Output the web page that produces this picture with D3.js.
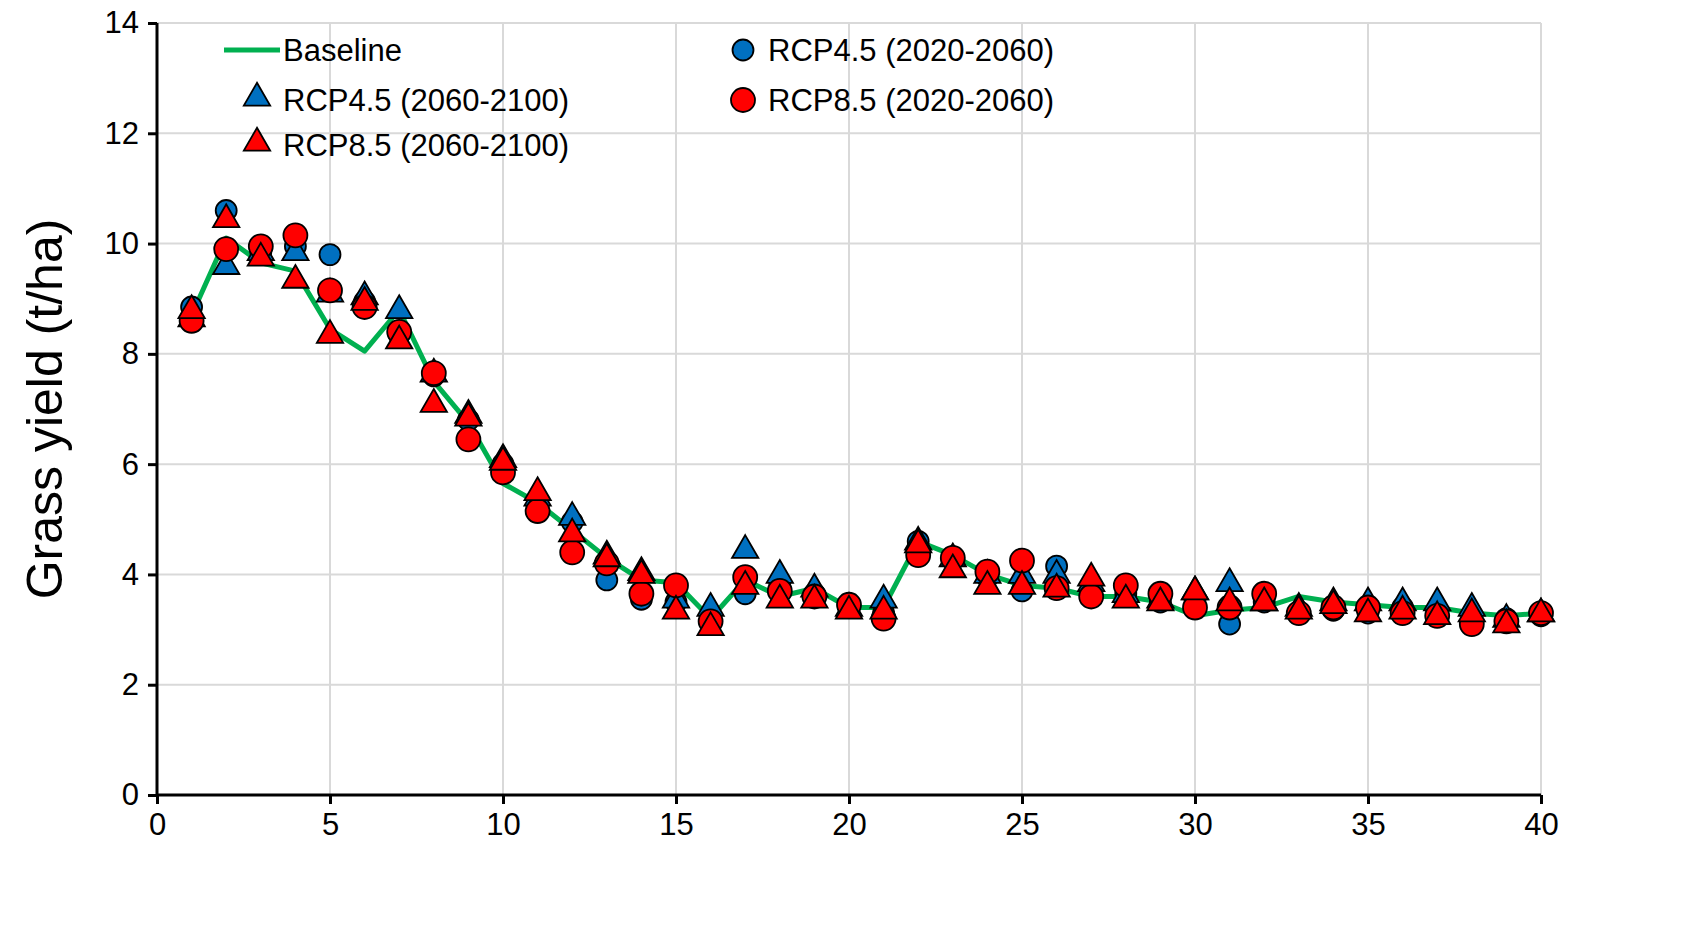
<!DOCTYPE html><html><head><meta charset="utf-8"><script src="https://cdn.jsdelivr.net/npm/d3@7"></script>
<style>body{margin:0;background:#fff}text{font-family:"Liberation Sans",Arial,sans-serif}</style></head><body>
<svg id="c" width="1685" height="925"></svg>
<script>
const years=d3.range(1,41);
const baseline=[8.7,10.1,9.65,9.5,8.45,8.05,8.8,7.5,6.75,5.65,5.3,4.8,4.3,3.9,3.85,3.2,3.9,3.6,3.75,3.4,3.4,4.6,4.35,4.0,3.8,3.75,3.6,3.6,3.5,3.25,3.35,3.4,3.6,3.5,3.45,3.4,3.4,3.3,3.25,3.3];
const rcp45a=[8.85,10.6,9.85,9.95,9.8,8.95,8.35,7.6,6.8,6.0,5.2,4.95,3.9,3.55,3.5,3.15,3.65,3.85,3.65,3.4,3.3,4.6,4.3,3.95,3.7,4.15,3.6,3.65,3.5,3.55,3.1,3.5,3.3,3.35,3.3,3.4,3.25,3.2,3.2,3.25];
const rcp45b=[8.6,9.55,9.8,9.8,9.05,9.0,8.75,7.6,6.85,6.05,5.35,5.0,4.3,4.0,3.5,3.35,4.4,3.95,3.7,3.35,3.5,4.55,4.25,3.95,3.95,3.95,3.8,3.6,3.5,3.65,3.8,3.45,3.35,3.45,3.45,3.45,3.45,3.35,3.15,3.25];
const rcp85a=[8.6,9.9,9.95,10.15,9.15,8.85,8.4,7.65,6.45,5.85,5.15,4.4,4.2,3.65,3.8,3.15,3.95,3.7,3.6,3.45,3.2,4.35,4.3,4.05,4.25,3.75,3.6,3.8,3.65,3.4,3.4,3.65,3.3,3.4,3.4,3.3,3.25,3.1,3.15,3.3];
const rcp85b=[8.75,10.4,9.7,9.3,8.3,8.9,8.2,7.05,6.8,6.0,5.45,4.7,4.25,3.95,3.3,3.0,3.75,3.5,3.5,3.3,3.3,4.5,4.05,3.75,3.75,3.7,3.9,3.5,3.45,3.65,3.45,3.45,3.3,3.4,3.25,3.3,3.2,3.25,3.05,3.25];
const xTicks=d3.range(0,41,5), yTicks=d3.range(0,15,2);
const L=157,R=1541,T=23,B=795;
const svg=d3.select("#c");
const x=d3.scaleLinear().domain([0,40]).range([L,R]);
const y=d3.scaleLinear().domain([0,14]).range([B,T]);
const g=svg.append("g");
g.selectAll(".gx").data(xTicks.slice(1)).join("line").attr("x1",d=>x(d)).attr("x2",d=>x(d)).attr("y1",T).attr("y2",B).attr("stroke","#d9d9d9").attr("stroke-width",2);
g.selectAll(".gy").data(yTicks.slice(1)).join("line").attr("x1",L).attr("x2",R).attr("y1",d=>y(d)).attr("y2",d=>y(d)).attr("stroke","#d9d9d9").attr("stroke-width",2);
const xa=svg.append("g").attr("transform",`translate(0,${B})`).call(d3.axisBottom(x).tickValues(xTicks).tickSize(9).tickPadding(9));
const ya=svg.append("g").attr("transform",`translate(${L},0)`).call(d3.axisLeft(y).tickValues(yTicks).tickSize(9).tickPadding(9));
[xa,ya].forEach(a=>{a.selectAll("path,line").attr("stroke","#000").attr("stroke-width",3);a.selectAll("text").attr("font-size",31).attr("fill","#000").style("font-family","Liberation Sans, Arial");a.select(".domain").attr("d",a===xa?`M${L},0H${R}`:`M0,${B}V${T}`);});
svg.append("text").attr("transform",`translate(62,${(T+B)/2}) rotate(-90)`).attr("text-anchor","middle").attr("font-size",50).text("Grass yield (t/ha)");
const clip=svg.append("g");
clip.append("path").datum(years).attr("fill","none").attr("stroke","#00b050").attr("stroke-width",5).attr("stroke-linejoin","round")
 .attr("d",d3.line().x(d=>x(d)).y((d,i)=>y(baseline[i])));
const tri=d3.symbol().type(d3.symbolTriangle).size(300);
function circles(arr,col){clip.append("g").selectAll("circle").data(arr).join("circle").attr("cx",(d,i)=>x(years[i])).attr("cy",d=>y(d)).attr("r",d=>col=="#ff0000"?12:10.5).attr("fill",col).attr("stroke","#000").attr("stroke-width",1.8);}
function tris(arr,col){clip.append("g").selectAll("path").data(arr).join("path").attr("d",tri).attr("transform",(d,i)=>`translate(${x(years[i])},${y(d)-2})`).attr("fill",col).attr("stroke","#000").attr("stroke-width",1.8);}
circles(rcp45a,"#0070c0");tris(rcp45b,"#0070c0");circles(rcp85a,"#ff0000");tris(rcp85b,"#ff0000");
const lg=svg.append("g").attr("font-size",31);
lg.append("line").attr("x1",224).attr("x2",280).attr("y1",50).attr("y2",50).attr("stroke","#00b050").attr("stroke-width",5);
lg.append("text").attr("x",283).attr("y",61).text("Baseline");
lg.append("path").attr("d",tri).attr("transform","translate(257,98)").attr("fill","#0070c0").attr("stroke","#000").attr("stroke-width",1.8);
lg.append("text").attr("x",283).attr("y",111).text("RCP4.5 (2060-2100)");
lg.append("path").attr("d",tri).attr("transform","translate(257,143)").attr("fill","#ff0000").attr("stroke","#000").attr("stroke-width",1.8);
lg.append("text").attr("x",283).attr("y",156).text("RCP8.5 (2060-2100)");
lg.append("circle").attr("cx",743).attr("cy",50).attr("r",10.5).attr("fill","#0070c0").attr("stroke","#000").attr("stroke-width",1.8);
lg.append("text").attr("x",768).attr("y",61).text("RCP4.5 (2020-2060)");
lg.append("circle").attr("cx",743).attr("cy",100).attr("r",12).attr("fill","#ff0000").attr("stroke","#000").attr("stroke-width",1.8);
lg.append("text").attr("x",768).attr("y",111).text("RCP8.5 (2020-2060)");
</script></body></html>
